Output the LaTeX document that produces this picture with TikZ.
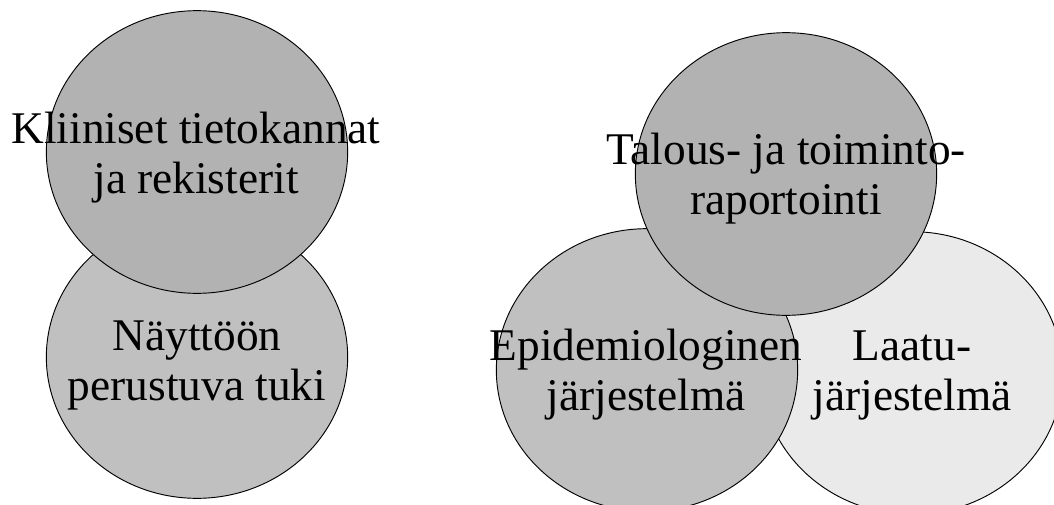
\documentclass[tikz,border=0pt]{standalone}
\usepackage{fontspec}
\setmainfont{Liberation Serif}
\usetikzlibrary{shapes.geometric}
\definecolor{topGray}{HTML}{B2B2B2}
\definecolor{midGray}{HTML}{C0C0C0}
\definecolor{lightGray}{HTML}{EAEAEA}

\begin{document}
\begin{tikzpicture}[
    x=0.75pt, y=-0.75pt,
    % ── shared styles ───────────────────────────────────────────────
    bubble/.style={
        ellipse, draw=black, line width=0.7pt,
        inner sep=0pt, minimum width=226pt, minimum height=212pt,
    },
    bubble text/.style={
        align=center, inner sep=0pt,
        font=\fontsize{34}{37.5}\selectfont, text=black,
    },
]
\useasboundingbox (0,0) rectangle (1054,504);

% =============================================================
%  LEFT GROUP
% =============================================================
\node[bubble, fill=midGray] (naytto) at (197,357) {};
\node[bubble, fill=topGray] (kliin) at (197,152) {};

\node[bubble text] (kliinText) at (196,158) {Kliiniset tietokannat\\ja rekisterit};
\node[bubble text] (nayttoText) at (197,365) {Näyttöön\\perustuva tuki};

% =============================================================
%  RIGHT GROUP
% =============================================================
\node[bubble, fill=lightGray] (laatu) at (912,373) {};
\node[bubble, fill=midGray] (epid) at (647,370) {};
\node[bubble, fill=topGray] (talous) at (786,174) {};

\node[bubble text] (talousText) at (786,179) {Talous- ja toiminto-\\raportointi};
\node[bubble text] (epidText) at (646,375) {Epidemiologinen\\järjestelmä};
\node[bubble text] (laatuText) at (912,375) {Laatu-\\järjestelmä};

\end{tikzpicture}
\end{document}
